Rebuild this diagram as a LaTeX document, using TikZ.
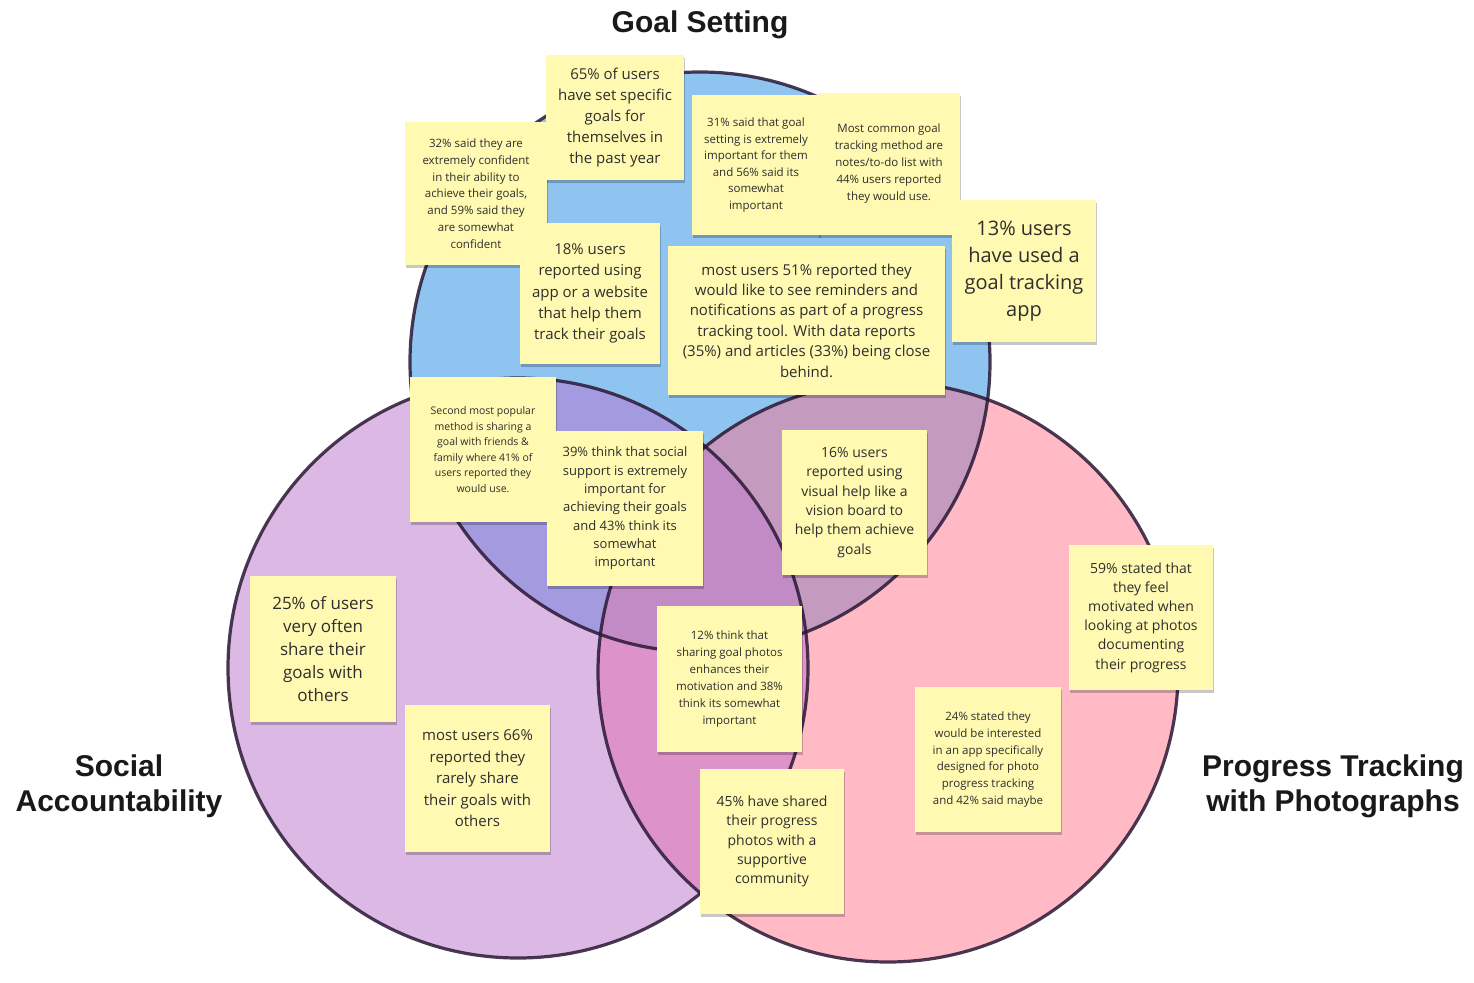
\documentclass[tikz,border=0pt]{standalone}
\usepackage{fontspec}
\setmainfont{Open Sans}
\newfontfamily\headfont{Liberation Sans}
\usetikzlibrary{shadows}
\definecolor{goalblue}{HTML}{90C4F0}
\definecolor{socialpurple}{HTML}{DCB9E4}
\definecolor{photopink}{HTML}{FFBAC5}
\definecolor{gsmix}{HTML}{A49ADF}
\definecolor{gpmix}{HTML}{C49BBF}
\definecolor{spmix}{HTML}{DD93C9}
\definecolor{allmix}{HTML}{C38BC6}
\definecolor{ringline}{HTML}{2A1836}
\definecolor{stickyyellow}{HTML}{FFF9B1}
\definecolor{notetext}{HTML}{2E2E2E}
\def\fs#1#2{\fontsize{#1}{#2}\selectfont}
\begin{document}
\begin{tikzpicture}[x=1pt,y=-1pt,
  ring/.style={draw=ringline,draw opacity=0.85,line width=3.2pt},
  note/.style 2 args={fill=stickyyellow,text=notetext,align=center,inner sep=4pt,
    minimum width=#1,minimum height=#2,
    drop shadow={shadow xshift=1pt,shadow yshift=-3pt,opacity=0.22,fill=black}},
  heading/.style={font=\headfont\bfseries\fs{30}{35},text=black!90,align=center}]
\def\r{290pt}
\def\goal{(700,362)}
\def\social{(518,668)}
\def\photo{(888,672)}
\fill[white] (0,0) rectangle (1474,982);
\useasboundingbox (0,0) rectangle (1474,982);
\fill[goalblue] \goal circle[radius=\r];
\fill[socialpurple] \social circle[radius=\r];
\fill[photopink] \photo circle[radius=\r];
\begin{scope}
  \clip \social circle[radius=\r];
  \fill[spmix] \photo circle[radius=\r];
\end{scope}
\begin{scope}
  \clip \goal circle[radius=\r];
  \fill[gsmix] \social circle[radius=\r];
  \fill[gpmix] \photo circle[radius=\r];
  \clip \social circle[radius=\r];
  \fill[allmix] \photo circle[radius=\r];
\end{scope}
\draw[ring] \goal circle[radius=\r];
\draw[ring] \social circle[radius=\r];
\draw[ring] \photo circle[radius=\r];

\node[heading] (goaltitle) at (700,25) {Goal Setting};
\node[heading] (socialtitle) at (119,786) {Social\\Accountability};
\node[heading] (phototitle) at (1333,786) {Progress Tracking\\with Photographs};

\node[note={142}{143},font=\fs{11.5}{16.8}] (n32) at (476,193.5)
  {32\% said they are\\extremely confident\\in their ability to\\achieve their goals,\\and 59\% said they\\are somewhat\\confident};
\node[note={138}{125},font=\fs{15}{20.8}] (n65) at (615,117.5)
  {65\% of users\\have set specific\\goals for\\themselves in\\the past year};
\node[note={128}{140},font=\fs{11.5}{16.6}] (n31) at (756,165)
  {31\% said that goal\\setting is extremely\\important for them\\and 56\% said its\\somewhat\\important};
\node[note={142}{142},font=\fs{11.5}{17}] (ncommon) at (889,164)
  {Most common goal\\tracking method are\\notes/to-do list with\\44\% users reported\\they would use.};
\node[note={144}{142},font=\fs{20}{27}] (n13) at (1024,271)
  {13\% users\\have used a\\goal tracking\\app};
\node[note={140}{141},font=\fs{15}{21.3}] (n18) at (590,293.5)
  {18\% users\\reported using\\app or a website\\that help them\\track their goals};
\node[note={277}{149},font=\fs{15}{20.4}] (n51) at (806.5,320.5)
  {most users 51\% reported they\\would like to see reminders and\\notifications as part of a progress\\tracking tool. With data reports\\(35\%) and articles (33\%) being close\\behind.};
\node[note={146}{145},font=\fs{10.5}{15.6}] (nsecond) at (483,449.5)
  {Second most popular\\method is sharing a\\goal with friends \&\\family where 41\% of\\users reported they\\would use.};
\node[note={156}{155},font=\fs{13}{18.3}] (n39) at (625,508.5)
  {39\% think that social\\support is extremely\\important for\\achieving their goals\\and 43\% think its\\somewhat\\important};
\node[note={145}{145},font=\fs{14}{19.4}] (n16) at (854.5,502.5)
  {16\% users\\reported using\\visual help like a\\vision board to\\help them achieve\\goals};
\node[note={146}{146},font=\fs{17}{23.2}] (n25) at (323,649)
  {25\% of users\\very often\\share their\\goals with\\others};
\node[note={145}{147},font=\fs{15}{21.5}] (n66) at (477.5,778.5)
  {most users 66\%\\reported they\\rarely share\\their goals with\\others};
\node[note={145}{146},font=\fs{11.5}{17}] (n12) at (729.5,679)
  {12\% think that\\sharing goal photos\\enhances their\\motivation and 38\%\\think its somewhat\\important};
\node[note={144}{145},font=\fs{14}{19.3}] (n45) at (772,841.5)
  {45\% have shared\\their progress\\photos with a\\supportive\\community};
\node[note={146}{145},font=\fs{11.5}{16.8}] (n24) at (988,759.5)
  {24\% stated they\\would be interested\\in an app specifically\\designed for photo\\progress tracking\\and 42\% said maybe};
\node[note={144}{145},font=\fs{14}{19.2}] (n59) at (1141,617.5)
  {59\% stated that\\they feel\\motivated when\\looking at photos\\documenting\\their progress};
\end{tikzpicture}
\end{document}
